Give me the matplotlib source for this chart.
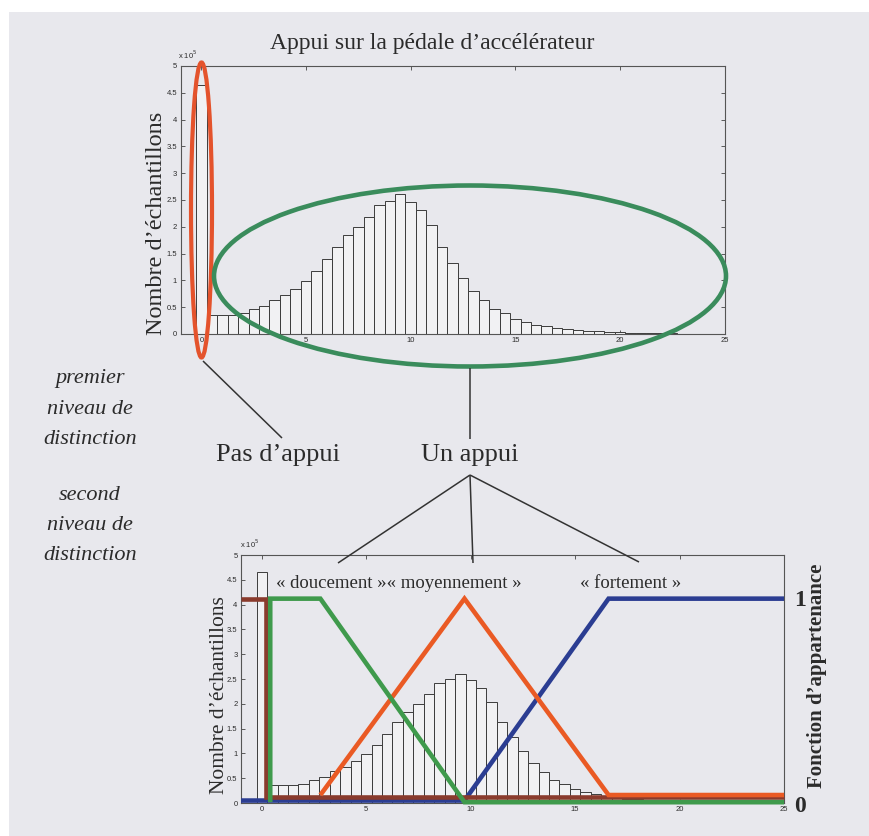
import numpy as np
import matplotlib
matplotlib.use("Agg")
import matplotlib.pyplot as plt
from matplotlib.patches import Ellipse, Rectangle
from matplotlib.ticker import FuncFormatter

# pedal position bins (centres, width 0.5) and sample counts (x 1e5)
bin_centres = np.arange(0, 25, 0.5)
counts = np.array([
    4.65, 0.36, 0.36, 0.36, 0.39, 0.46, 0.53, 0.64, 0.73, 0.84,
    0.99, 1.17, 1.39, 1.63, 1.84, 2.00, 2.19, 2.41, 2.49, 2.61,
    2.47, 2.31, 2.03, 1.63, 1.33, 1.05, 0.81, 0.63, 0.47, 0.39,
    0.28, 0.22, 0.175, 0.14, 0.11, 0.09, 0.075, 0.06, 0.05, 0.035,
    0.03, 0.025, 0.02, 0.015, 0.012, 0.01, 0.008, 0.006, 0.005, 0.004,
]) * 1e5

# membership functions: breakpoints on the pedal axis and degree
pas_appui_x = [-1, 0.2, 0.2, 25]
pas_appui_y = [1, 1, 0, 0]
doucement_x = [0.4, 0.4, 2.8, 9.7, 25]
doucement_y = [0, 1, 1, 0, 0]
moyennement_x = [2.8, 9.7, 16.6, 25]
moyennement_y = [0, 1, 0, 0]
fortement_x = [-1, 9.7, 16.6, 25]
fortement_y = [0, 0, 1, 1]

SERIF = "Liberation Serif"
SANS = "Liberation Sans"
INK = "#2b2b2b"
PAGE = "#e8e8ed"

W, H = 869, 836
fig = plt.figure(figsize=(W / 100, H / 100), dpi=100)
fig.patch.set_facecolor(PAGE)


def px_axes(left, top, right, bottom):
    return fig.add_axes([left / W, 1 - bottom / H, (right - left) / W, (bottom - top) / H])


def draw_hist(ax):
    ax.bar(bin_centres, counts, width=0.5, facecolor="#f1f1f3",
           edgecolor="#3c3c3c", linewidth=0.7, zorder=2)
    ax.set_facecolor("none")
    ax.set_xlim(-1, 25)
    ax.set_ylim(0, 5e5)
    ax.set_xticks(range(0, 26, 5))
    ax.set_yticks(np.arange(0, 5.01e5, 0.5e5))
    ax.yaxis.set_major_formatter(FuncFormatter(lambda v, _: f"{v / 1e5:g}"))
    ax.tick_params(direction="in", length=3, width=0.6, top=True, right=True,
                   labelsize=5.5, pad=2.5, colors="#444444", labelcolor=INK)
    for lab in ax.get_xticklabels() + ax.get_yticklabels():
        lab.set_family(SANS)
    for sp in ax.spines.values():
        sp.set_color("#555555")
        sp.set_linewidth(0.8)


# upper histogram
ax_top = px_axes(180.5, 66, 724.5, 334)
draw_hist(ax_top)

# lower histogram with membership functions
ax_bot = px_axes(241, 555, 784, 803)
draw_hist(ax_bot)

ax_mf = ax_bot.twinx()
ax_mf.set_ylim(0, 5 / 4.12)
ax_mf.set_yticks([])
for sp in ax_mf.spines.values():
    sp.set_visible(False)


def lifted(y, base):
    # raise the zero level a little so the overlapping lines stay visible
    y = np.asarray(y, dtype=float)
    return y + (1 - y) * base


mf_style = dict(lw=3.3, solid_joinstyle="miter", solid_capstyle="butt", clip_on=False)
ax_mf.plot(fortement_x, lifted(fortement_y, 0.012), color="#2b3d92", zorder=3, **mf_style)
ax_mf.plot(pas_appui_x, lifted(pas_appui_y, 0.027), color="#8a3b2d", zorder=4, **mf_style)
ax_mf.plot(moyennement_x, lifted(moyennement_y, 0.039), color="#ea5a24", zorder=5, **mf_style)
ax_mf.plot(doucement_x, lifted(doucement_y, 0.004), color="#3f9a4c", zorder=6, **mf_style)

# overlay in pixel coordinates for the tree and the labels
ov = fig.add_axes([0, 0, 1, 1], zorder=10)
ov.set_xlim(0, W)
ov.set_ylim(H, 0)
ov.axis("off")
ov.patch.set_visible(False)

ov.add_patch(Rectangle((0, 0), W, 12, facecolor="white", edgecolor="none"))
ov.add_patch(Rectangle((0, 0), 9, H, facecolor="white", edgecolor="none"))

ov.add_patch(Ellipse((201.5, 210), 21, 295, fill=False, edgecolor="#e4532c", lw=3.0))
ov.add_patch(Ellipse((470, 276), 512, 181, fill=False, edgecolor="#3a8c5c", lw=3.3))

tree = [
    ((203, 361), (282, 438)),
    ((469.5, 368), (469.5, 439)),
    ((470, 475), (338, 563)),
    ((470, 475), (473, 563)),
    ((470, 475), (639, 562)),
]
for (x0, y0), (x1, y1) in tree:
    ov.plot([x0, x1], [y0, y1], color="#333333", lw=1.1, solid_capstyle="butt")

ov.text(432, 44, "Appui sur la pédale d’accélérateur", family=SERIF, fontsize=17,
        color=INK, ha="center", va="center")
ov.text(278.5, 455, "Pas d’appui", family=SERIF, fontsize=19, color=INK,
        ha="center", va="center")
ov.text(470, 455, "Un appui", family=SERIF, fontsize=19, color=INK,
        ha="center", va="center")

for y, s in zip([379, 410, 440, 495, 525, 555],
                ["premier", "niveau de", "distinction", "second", "niveau de", "distinction"]):
    ov.text(90, y, s, family=SERIF, style="italic", fontsize=16, color=INK,
            ha="center", va="center")

ov.text(157, 223, "Nombre d’échantillons", family=SERIF, fontsize=17.5, color=INK,
        rotation=90, ha="center", va="center")
ov.text(220, 695, "Nombre d’échantillons", family=SERIF, fontsize=15.5, color=INK,
        rotation=90, ha="center", va="center")
ov.text(817, 676, "Fonction d’appartenance", family=SERIF, weight="bold",
        fontsize=15, color=INK, rotation=90, ha="center", va="center")
ov.text(800, 600, "1", family=SERIF, weight="bold", fontsize=17, color=INK,
        ha="center", va="center")
ov.text(800, 806, "0", family=SERIF, weight="bold", fontsize=17, color=INK,
        ha="center", va="center")

ov.text(178, 61, r"x 10$^{5}$", family=SANS, fontsize=5.5, color=INK, ha="left", va="bottom")
ov.text(240, 550, r"x 10$^{5}$", family=SANS, fontsize=5.5, color=INK, ha="left", va="bottom")

ov.text(276, 583, "« doucement »« moyennement »", family=SERIF, fontsize=13.5,
        color=INK, ha="left", va="center")
ov.text(580, 583, "« fortement »", family=SERIF, fontsize=13.5, color=INK,
        ha="left", va="center")

fig.savefig("out.png", dpi=100, facecolor=fig.get_facecolor())
